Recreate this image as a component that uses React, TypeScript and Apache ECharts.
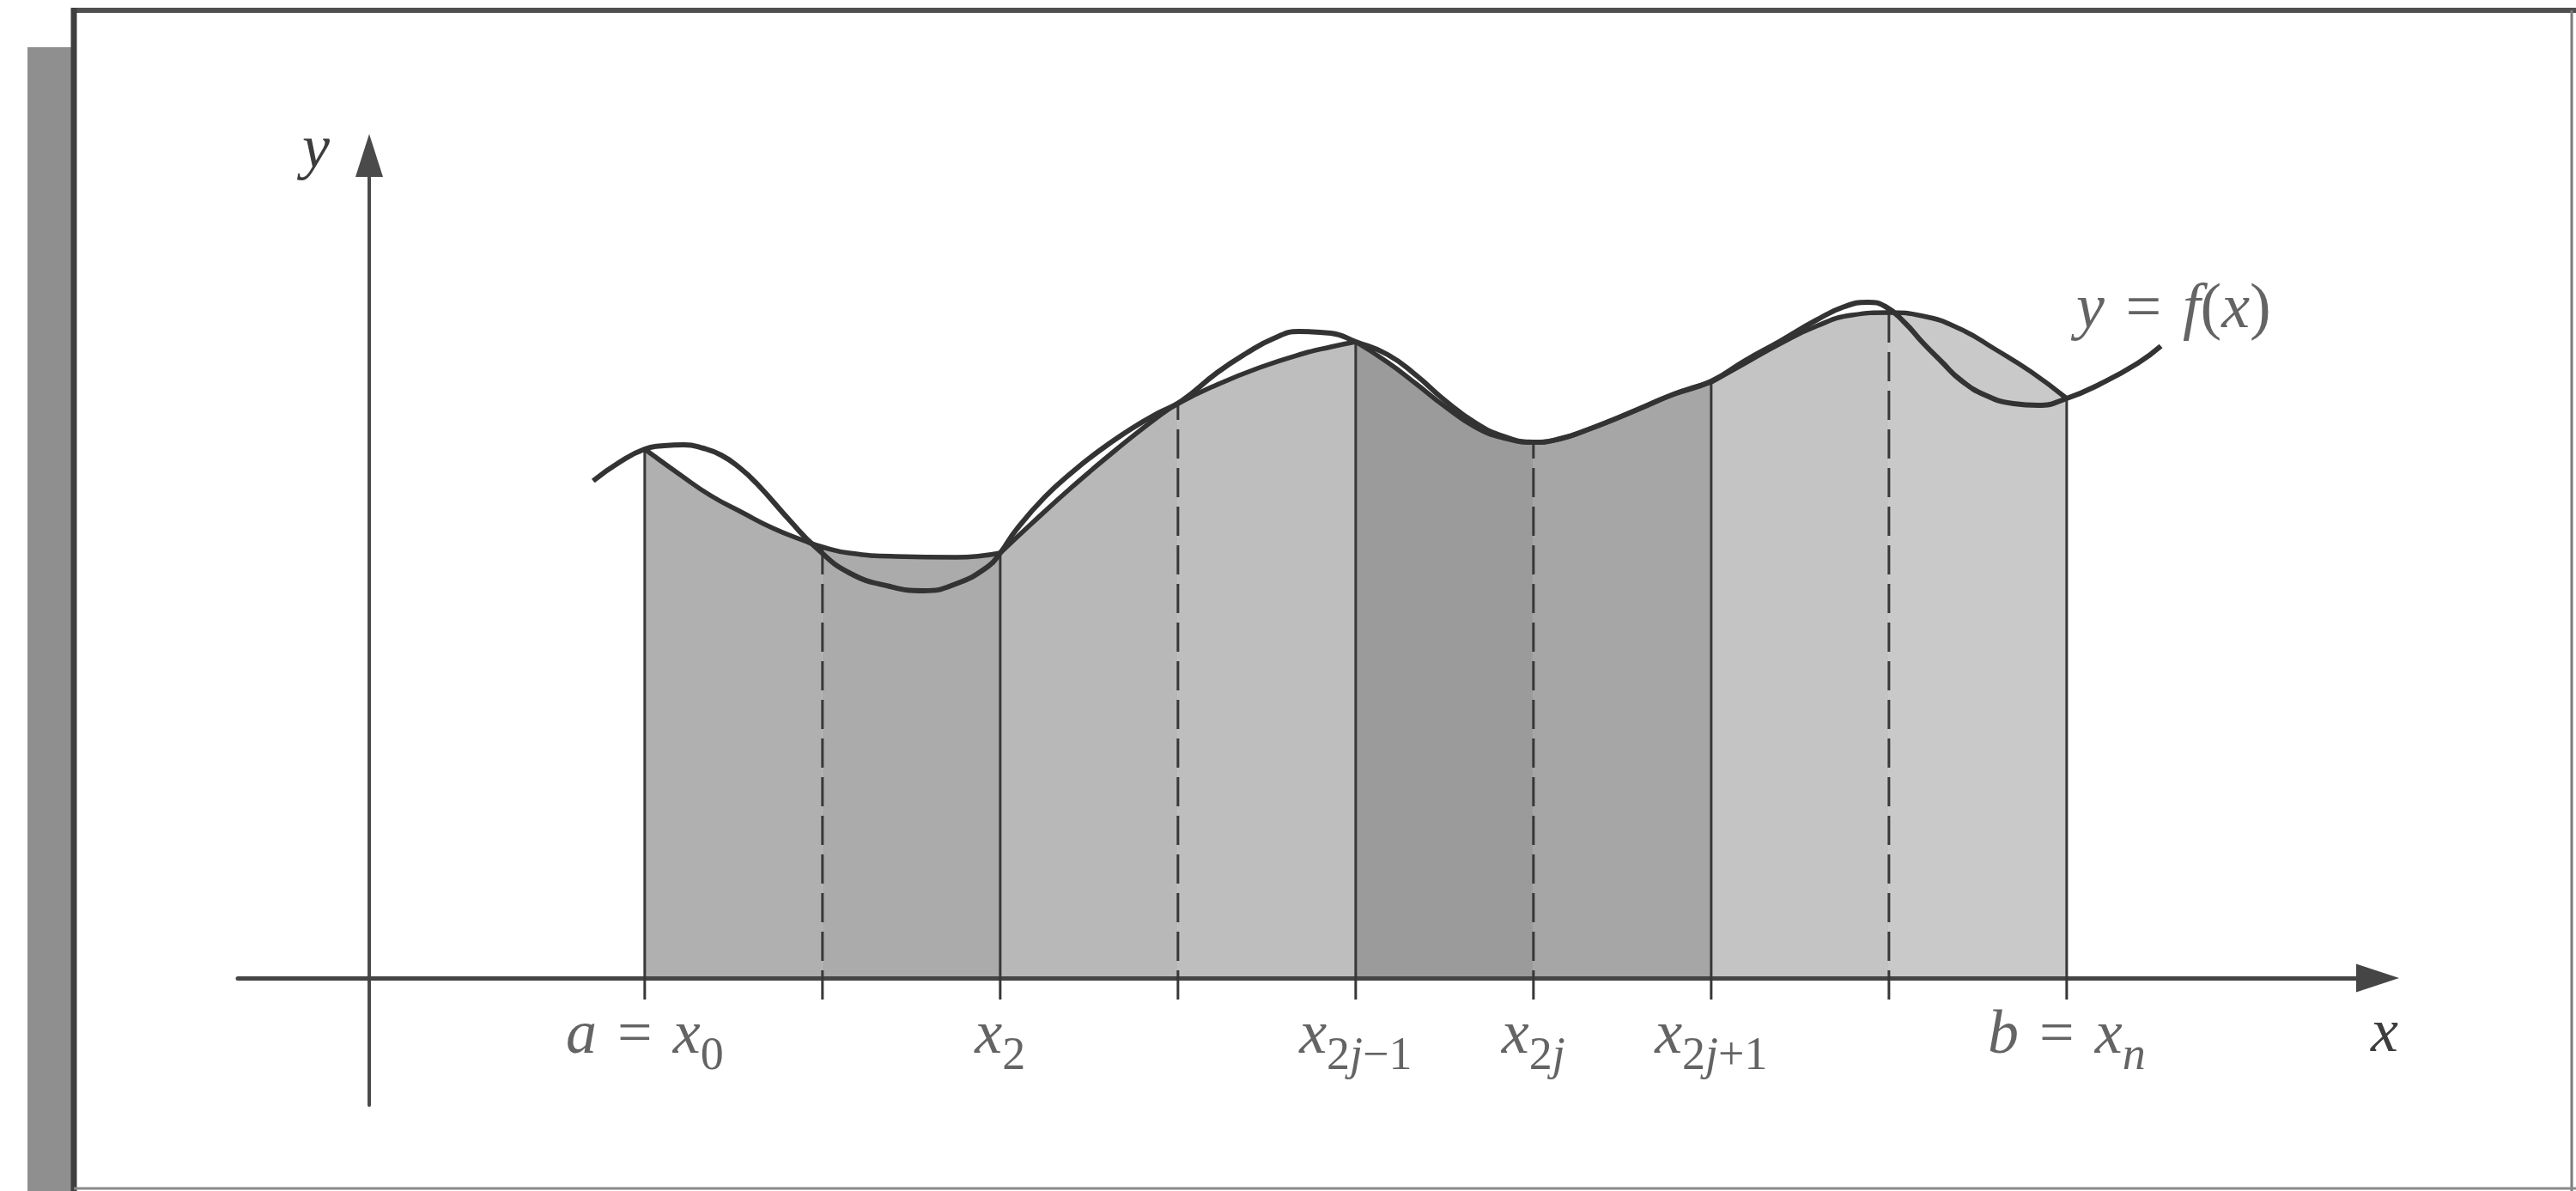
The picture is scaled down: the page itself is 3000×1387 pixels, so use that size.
import React, { useEffect, useRef } from "react";
import * as echarts from "echarts";

// ---------------- data ----------------
// partition nodes x0 ... x8 and the height of f at each node
const nodeX = [1.55, 2.55, 3.55, 4.55, 5.55, 6.55, 7.55, 8.55, 9.55];
const nodeY = [6.16, 5.02, 4.95, 6.69, 7.41, 6.24, 6.94, 7.75, 6.75];
const nodeDashed = [false, true, false, true, false, true, false, true, false];
const tickMain = ["a = x", "", "x", "", "x", "x", "x", "", "b = x"];
const tickSub = ["0", "", "2", "", "2j\u22121", "2j", "2j+1", "", "n"];

// the curve y = f(x)
const curveX = [1.26, 1.41, 1.55, 1.66, 1.77, 1.88, 1.98, 2.08, 2.18, 2.37, 2.51, 2.7, 2.93, 3.12, 3.3, 3.48, 3.55, 3.64, 3.8, 3.96, 4.12, 4.29, 4.44, 4.57, 4.77, 4.93, 5.09, 5.23, 5.41, 5.55, 5.73, 5.89, 6.05, 6.22, 6.38, 6.55, 6.7, 6.86, 7.02, 7.18, 7.34, 7.55, 7.74, 7.94, 8.14, 8.3, 8.43, 8.53, 8.64, 8.74, 8.85, 8.95, 9.09, 9.25, 9.39, 9.55, 9.74, 9.95, 10.08];
const curveY = [5.79, 6.01, 6.16, 6.2, 6.21, 6.17, 6.09, 5.95, 5.76, 5.32, 5.02, 4.72, 4.56, 4.51, 4.59, 4.79, 4.95, 5.22, 5.6, 5.9, 6.16, 6.4, 6.58, 6.72, 7.05, 7.27, 7.45, 7.53, 7.51, 7.41, 7.26, 7.02, 6.73, 6.47, 6.31, 6.24, 6.28, 6.39, 6.52, 6.66, 6.8, 6.95, 7.19, 7.42, 7.66, 7.82, 7.87, 7.82, 7.63, 7.4, 7.17, 6.97, 6.79, 6.69, 6.67, 6.75, 6.92, 7.16, 7.36];
const curveLabel = "y = f(x)";

// the parabolic arcs (tops of the shaded panels)
const panel1X = [1.55, 1.75, 1.92, 2.1, 2.27, 2.45, 2.55, 2.7, 2.96, 3.3, 3.55];
const panel1Y = [6.16, 5.86, 5.62, 5.42, 5.24, 5.09, 5.02, 4.95, 4.91, 4.9, 4.95];
const panel2X = [3.55, 3.72, 3.96, 4.2, 4.44, 4.55, 4.77, 5.01, 5.25, 5.41, 5.55];
const panel2Y = [4.95, 5.28, 5.73, 6.15, 6.54, 6.69, 6.91, 7.11, 7.27, 7.35, 7.41];
const panel3X = [5.55, 5.73, 5.89, 6.05, 6.22, 6.38, 6.55, 6.7, 6.86, 7.02, 7.18, 7.34, 7.55];
const panel3Y = [7.41, 7.17, 6.92, 6.66, 6.42, 6.29, 6.24, 6.28, 6.39, 6.52, 6.66, 6.8, 6.94];
const panel4X = [7.55, 7.74, 7.94, 8.14, 8.34, 8.55, 8.74, 8.95, 9.15, 9.35, 9.55];
const panel4Y = [6.94, 7.16, 7.39, 7.59, 7.72, 7.75, 7.71, 7.56, 7.32, 7.06, 6.75];

const xAxisName = "x";
const yAxisName = "y";

// ---------------- styles ----------------
const FONT = '"Liberation Serif", "Times New Roman", Times, serif';
const TEXT = "#3d3d3d";
const INK = "#333333";
const SHADES = ["#b0b0b0", "#ababab", "#b8b8b8", "#bebebe", "#9b9b9b", "#a6a6a6", "#c4c4c4", "#c9c9c9"];
const MAIN = 72;
const SUBF = 54;
const CURVEF = 74;

const base = (size: number, italic: boolean, lh: number) => ({
  fontFamily: FONT,
  fontStyle: italic ? "italic" : "normal",
  fontSize: size,
  lineHeight: lh,
  verticalAlign: "top",
  color: TEXT,
});

const rich: any = {
  i: base(MAIN, true, 76),
  r: base(MAIN, false, 76),
  si: { ...base(SUBF, true, 56), padding: [34, 0, 0, 0] },
  sr: { ...base(SUBF, false, 56), padding: [34, 0, 0, 0] },
  ci: base(CURVEF, true, 78),
  cr: base(CURVEF, false, 78),
};

function tokens(s: string, prefix: string): string {
  let out = "";
  let cur = "";
  let curStyle = "";
  for (const raw of s) {
    const ch = raw === " " ? "\u2004" : raw;
    const name = prefix + (/[A-Za-z]/.test(raw) ? "i" : "r");
    if (name !== curStyle && cur) {
      out += `{${curStyle}|${cur}}`;
      cur = "";
    }
    curStyle = name;
    cur += ch;
  }
  if (cur) out += `{${curStyle}|${cur}}`;
  return out;
}

function buildOption(): any {
  const series: any[] = [];
  const panelsX = [panel1X, panel2X, panel3X, panel4X];
  const panelsY = [panel1Y, panel2Y, panel3Y, panel4Y];

  // shaded areas, split at the midpoint node of each panel
  panelsX.forEach((px, p) => {
    const py = panelsY[p];
    const mid = nodeX[2 * p + 1];
    const pts = px.map((x, i) => [x, py[i]]);
    const halves = [pts.filter((d) => d[0] <= mid + 1e-9), pts.filter((d) => d[0] >= mid - 1e-9)];
    halves.forEach((data, h) => {
      series.push({
        type: "line",
        data,
        smooth: true,
        symbol: "none",
        silent: true,
        lineStyle: { width: 0, opacity: 0 },
        areaStyle: { color: SHADES[2 * p + h], opacity: 1 },
        z: 1,
      });
    });
  });

  // vertical ordinates at the nodes
  nodeX.forEach((x, k) => {
    series.push({
      type: "line",
      data: [
        [x, -0.25],
        [x, nodeY[k]],
      ],
      symbol: "none",
      silent: true,
      lineStyle: { color: "#383838", width: 3, type: nodeDashed[k] ? [34, 11] : "solid" },
      z: 3,
    });
  });

  // parabolic arcs
  panelsX.forEach((px, p) => {
    series.push({
      type: "line",
      data: px.map((x, i) => [x, panelsY[p][i]]),
      smooth: true,
      symbol: "none",
      silent: true,
      lineStyle: { color: INK, width: 5.5 },
      z: 4,
    });
  });

  // the function curve
  series.push({
    type: "line",
    data: curveX.map((x, i) => [x, curveY[i]]),
    smooth: true,
    symbol: "none",
    silent: true,
    lineStyle: { color: INK, width: 6 },
    z: 5,
  });

  // tick labels
  const tickData = nodeX
    .map((x, k) => ({ name: String(k), value: [x, 0] }))
    .filter((d) => tickMain[Number(d.name)]);
  series.push({
    type: "scatter",
    data: tickData,
    symbolSize: 1,
    silent: true,
    itemStyle: { color: "rgba(0,0,0,0)" },
    label: {
      show: true,
      position: "bottom",
      distance: 26,
      align: "center",
      formatter: (p: any) => {
        const k = Number(p.name);
        return tokens(tickMain[k], "") + tokens(tickSub[k], "s");
      },
      rich,
    },
    z: 6,
  });

  // curve label y = f(x)
  series.push({
    type: "scatter",
    data: [[curveX[curveX.length - 1], curveY[curveY.length - 1]]],
    symbolSize: 1,
    silent: true,
    itemStyle: { color: "rgba(0,0,0,0)" },
    label: {
      show: true,
      position: [0, 0],
      offset: [-98, -84],
      align: "left",
      verticalAlign: "top",
      formatter: () => tokens(curveLabel, "c"),
      rich,
    },
    z: 6,
  });

  return {
    animation: false,
    backgroundColor: "#ffffff",
    grid: { left: 277, right: 231, top: 181, bottom: 100, containLabel: false },
    xAxis: {
      type: "value",
      min: -0.7391,
      max: 11.2995,
      z: 3,
      axisLine: {
        show: true,
        onZero: true,
        symbol: ["none", "triangle"],
        symbolSize: [33, 50],
        lineStyle: { color: "#454545", width: 5 },
      },
      axisTick: { show: false },
      axisLabel: { show: false },
      splitLine: { show: false },
      name: xAxisName,
      nameLocation: "end",
      nameGap: 8,
      nameTextStyle: {
        fontFamily: FONT,
        fontStyle: "italic",
        fontSize: MAIN,
        lineHeight: 76,
        color: TEXT,
        align: "center",
        verticalAlign: "top",
        padding: [23, 0, 0, 0],
      },
    },
    yAxis: {
      type: "value",
      min: -1.48,
      max: 9.58,
      z: 3,
      axisLine: {
        show: true,
        onZero: true,
        symbol: ["none", "triangle"],
        symbolSize: [32, 50],
        lineStyle: { color: "#4a4a4a", width: 4 },
      },
      axisTick: { show: false },
      axisLabel: { show: false },
      splitLine: { show: false },
      name: yAxisName,
      nameLocation: "end",
      nameGap: 10,
      nameTextStyle: {
        fontFamily: FONT,
        fontStyle: "italic",
        fontSize: MAIN,
        lineHeight: 76,
        color: TEXT,
        align: "right",
        verticalAlign: "middle",
        padding: [0, 46, 0, 0],
      },
    },
    graphic: [
      { type: "rect", silent: true, shape: { x: 32, y: 55, width: 51, height: 1340 }, style: { fill: "#8f8f8f" } },
      { type: "line", silent: true, shape: { x1: 83, y1: 12, x2: 3000, y2: 12 }, style: { stroke: "#4f4f4f", lineWidth: 6 } },
      { type: "line", silent: true, shape: { x1: 86, y1: 9, x2: 86, y2: 1387 }, style: { stroke: "#3f3f3f", lineWidth: 7 } },
      { type: "line", silent: true, shape: { x1: 2995, y1: 12, x2: 2995, y2: 1387 }, style: { stroke: "#7a7a7a", lineWidth: 3 } },
      { type: "line", silent: true, shape: { x1: 86, y1: 1384, x2: 3000, y2: 1384 }, style: { stroke: "#8a8a8a", lineWidth: 3 } },
    ],
    series,
  };
}

export default function App() {
  const ref = useRef<HTMLDivElement>(null);
  useEffect(() => {
    if (!ref.current) return;
    const chart = echarts.init(ref.current, null, { renderer: "svg" });
    chart.setOption(buildOption());
    return () => chart.dispose();
  }, []);
  return (
    <div
      ref={ref}
      style={{ position: "fixed", left: 0, top: 0, width: 3000, height: 1387, background: "#ffffff" }}
    />
  );
}
